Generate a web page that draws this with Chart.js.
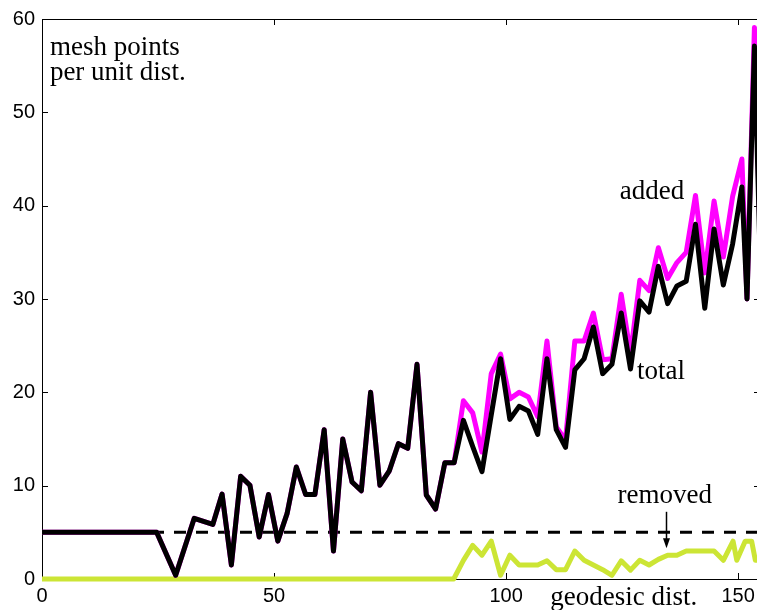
<!DOCTYPE html>
<html>
<head>
<meta charset="utf-8">
<script src="https://cdn.jsdelivr.net/npm/chart.js@4.4.1/dist/chart.umd.min.js"></script>
<style>
  html, body { margin: 0; padding: 0; background: #fff; overflow: hidden; }
  canvas { display: block; }
</style>
</head>
<body>
<canvas id="meshChart" width="760" height="610"></canvas>
<script>
// sample positions along the geodesic
const dist = [0, 24.7, 28.8, 32.8, 36.8, 38.8, 40.8, 42.8, 44.8, 46.8, 48.8, 50.8, 52.8, 54.8, 56.8, 58.8,
  60.8, 62.8, 64.8, 66.8, 68.8, 70.8, 72.8, 74.8, 76.8, 78.8, 80.8, 82.8, 84.8, 86.8, 88.8,
  90.8, 92.8, 94.8, 96.8, 98.8, 100.8, 102.8, 104.8, 106.8, 108.8, 110.8, 112.8, 114.8, 116.8, 118.8,
  120.8, 122.8, 124.8, 126.8, 128.8, 130.8, 132.8, 134.8, 136.8, 138.8, 140.8, 142.8, 144.8, 146.8, 148.8,
  150.8, 151.9, 153.5, 155.5];

const total = [5, 5, 0.4, 6.5, 5.85, 9.1, 1.5, 11.0, 10.05, 4.5, 9.05, 4.06, 7.0, 12.0, 9.05, 9.05,
  16.0, 3.0, 15.0, 10.4, 9.45, 20.0, 10.05, 11.55, 14.5, 14.0, 23.0, 9.0, 7.5, 12.45, 12.45,
  17.0, 14.2, 11.5, 17.6, 23.6, 17.1, 18.5, 18.0, 15.5, 23.6, 16.0, 14.1, 22.4, 23.6, 27.0,
  22.0, 23.0, 28.5, 22.5, 29.8, 28.6, 33.5, 29.5, 31.4, 31.9, 38.0, 29.0, 37.5, 31.5, 35.9,
  42.0, 30.0, 57.1, 20];

const added = [5, 5, 0.4, 6.5, 5.85, 9.1, 1.5, 11.0, 10.05, 4.5, 9.05, 4.06, 7.0, 12.0, 9.05, 9.05,
  16.0, 3.0, 15.0, 10.4, 9.45, 20.0, 10.05, 11.55, 14.5, 14.0, 23.0, 9.0, 7.5, 12.45, 12.45,
  19.1, 17.8, 13.6, 22.0, 24.1, 19.3, 20.0, 19.5, 17.4, 25.5, 16.3, 14.9, 25.5, 25.5, 28.5,
  23.5, 23.6, 30.5, 24.1, 32.0, 30.9, 35.5, 32.2, 33.9, 35.0, 41.1, 32.8, 40.5, 34.5, 41.0,
  45.0, 30.0, 59.1, 22];

const removedDist = [0, 88.7, 90.8, 92.8, 94.8, 96.8, 98.8, 100.8, 102.8, 104.8, 106.8, 108.8, 110.8,
  112.8, 114.8, 116.8, 118.8, 120.8, 122.8, 124.8, 126.8, 128.8, 130.8, 132.8, 134.8, 136.8, 138.8,
  140.8, 142.8, 144.8, 146.8, 148.9, 149.7, 151.5, 152.9, 153.7, 155.5];
const removed = [0, 0, 2.0, 3.6, 2.55, 4.05, 0.4, 2.55, 1.5, 1.5, 1.5, 1.95, 1.0,
  1.0, 3.0, 2.0, 1.5, 1.0, 0.4, 1.95, 0.95, 2.0, 1.5, 2.1, 2.55, 2.55, 3.0,
  3.0, 3.0, 3.0, 2.0, 4.05, 2.0, 4.05, 4.05, 2.0, 2.0];

const baseDist = [0, 156];
const baseLevel = [5, 5];

const xTicks = [0, 50, 100, 150];
const yTicks = [0, 10, 20, 30, 40, 50, 60];
const xMax = 154.7;

const pts = (xs, ys) => xs.map((x, i) => ({ x, y: ys[i] }));

const serif = '27px "Liberation Serif", serif';
const notes = [
  { text: "mesh points", x: 1.7, y: 56.15 },
  { text: "per unit dist.", x: 1.7, y: 53.5 },
  { text: "added", x: 124.5, y: 40.7 },
  { text: "total", x: 128.2, y: 21.47 },
  { text: "removed", x: 134.2, y: 8.1, align: "center" },
  { text: "geodesic dist.", x: 109.5, y: -2.8 },
];

const framePlugin = {
  id: "frame",
  beforeDatasetsDraw(chart) {
    const { ctx, chartArea: a, scales: { x, y } } = chart;
    ctx.save();
    ctx.strokeStyle = "#000";
    ctx.lineWidth = 1;
    ctx.strokeRect(Math.round(a.left) + 0.5, Math.round(a.top) + 0.5,
      Math.round(a.right - a.left), Math.round(a.bottom - a.top));
    ctx.beginPath();
    xTicks.forEach((v) => {
      const px = Math.round(x.getPixelForValue(v)) + 0.5;
      ctx.moveTo(px, a.bottom); ctx.lineTo(px, a.bottom - 6);
      ctx.moveTo(px, a.top); ctx.lineTo(px, a.top + 6);
    });
    yTicks.forEach((v) => {
      const py = Math.round(y.getPixelForValue(v)) + 0.5;
      ctx.moveTo(a.left, py); ctx.lineTo(a.left + 6, py);
      ctx.moveTo(a.right, py); ctx.lineTo(a.right - 6, py);
    });
    ctx.stroke();
    ctx.restore();
  },
};

const notesPlugin = {
  id: "notes",
  afterDatasetsDraw(chart) {
    const { ctx, scales: { x, y } } = chart;
    ctx.save();
    ctx.fillStyle = "#000";
    ctx.font = serif;
    ctx.textBaseline = "alphabetic";
    notes.forEach((n) => {
      ctx.textAlign = n.align || "left";
      ctx.fillText(n.text, x.getPixelForValue(n.x), y.getPixelForValue(n.y));
    });
    // arrow pointing at the removed curve
    const ax = Math.round(x.getPixelForValue(134.5)) + 0.5;
    const y0 = y.getPixelForValue(7.2);
    const y1 = y.getPixelForValue(3.3);
    ctx.strokeStyle = "#000";
    ctx.lineWidth = 1.5;
    ctx.beginPath();
    ctx.moveTo(ax, y0);
    ctx.lineTo(ax, y1 - 8);
    ctx.stroke();
    ctx.beginPath();
    ctx.moveTo(ax - 3.5, y1 - 10);
    ctx.lineTo(ax + 3.5, y1 - 10);
    ctx.lineTo(ax, y1);
    ctx.closePath();
    ctx.fill();
    ctx.restore();
  },
};

const tickFont = { family: "Liberation Sans", size: 20 };
const lineClip = { left: 4, top: 0, right: 0, bottom: 4 };

new Chart(document.getElementById("meshChart").getContext("2d"), {
  type: "line",
  data: {
    datasets: [
      { label: "total", data: pts(dist, total), borderColor: "#000000", borderWidth: 5, order: 0, clip: lineClip },
      { label: "added", data: pts(dist, added), borderColor: "#ff00ff", borderWidth: 5, order: 1, clip: lineClip },
      { label: "removed", data: pts(removedDist, removed), borderColor: "#cce535", borderWidth: 5, order: 2, clip: lineClip },
      { label: "base", data: pts(baseDist, baseLevel), borderColor: "#000000", borderWidth: 3, borderDash: [12, 10], order: 3, clip: lineClip },
    ],
  },
  options: {
    responsive: false,
    animation: false,
    layout: { padding: { top: 18, left: 0, right: 0, bottom: 0 } },
    elements: {
      point: { radius: 0 },
      line: { tension: 0, borderJoinStyle: "round", borderCapStyle: "butt", fill: false },
    },
    plugins: { legend: { display: false }, tooltip: { enabled: false } },
    scales: {
      x: {
        type: "linear",
        min: 0,
        max: xMax,
        afterBuildTicks: (s) => { s.ticks = xTicks.map((v) => ({ value: v })); },
        afterFit: (s) => { s.height = 31; },
        grid: { display: false, drawTicks: false },
        border: { display: false },
        ticks: { color: "#000", font: tickFont, padding: 5, maxRotation: 0, autoSkip: false },
      },
      y: {
        type: "linear",
        min: 0,
        max: 60,
        afterBuildTicks: (s) => { s.ticks = yTicks.map((v) => ({ value: v })); },
        afterFit: (s) => { s.width = 42; },
        grid: { display: false, drawTicks: false },
        border: { display: false },
        ticks: { color: "#000", font: tickFont, padding: 7 },
      },
    },
  },
  plugins: [framePlugin, notesPlugin],
});
</script>
</body>
</html>
